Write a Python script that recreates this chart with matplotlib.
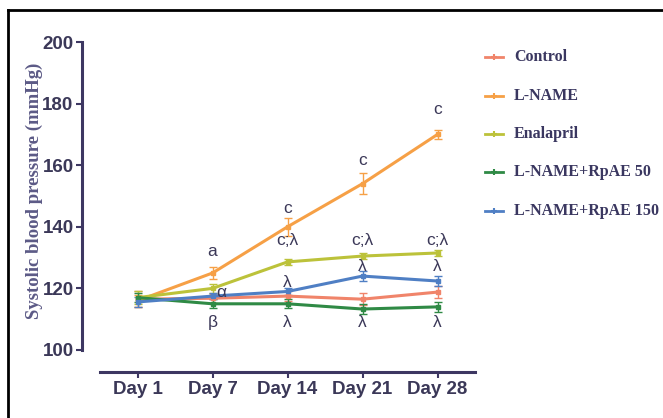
import matplotlib
matplotlib.use("Agg")
import matplotlib.pyplot as plt
from matplotlib.lines import Line2D

days = ["Day 1", "Day 7", "Day 14", "Day 21", "Day 28"]
x = [0, 1, 2, 3, 4]

control = [116.5, 116.8, 117.5, 116.5, 118.8]
control_err = [2.5, 1.5, 1.5, 2.0, 2.0]
lname = [116.0, 125.0, 140.0, 154.0, 170.0]
lname_err = [2.0, 2.0, 3.0, 3.5, 1.5]
enalapril = [117.0, 120.0, 128.6, 130.5, 131.5]
enalapril_err = [2.0, 1.5, 1.0, 1.0, 1.0]
rpae50 = [117.0, 115.0, 115.0, 113.3, 114.0]
rpae50_err = [1.5, 1.5, 1.5, 1.5, 1.5]
rpae150 = [115.6, 117.5, 119.0, 124.0, 122.4]
rpae150_err = [1.5, 1.0, 1.0, 1.5, 1.5]

series = [
    ("Control", control, control_err, "#f0846a"),
    ("L-NAME", lname, lname_err, "#f6a046"),
    ("Enalapril", enalapril, enalapril_err, "#bcc23a"),
    ("L-NAME+RpAE 50", rpae50, rpae50_err, "#2f8a45"),
    ("L-NAME+RpAE 150", rpae150, rpae150_err, "#4f7fc4"),
]

# significance letters: (x, y, text)
marks = [
    (1, 132.0, "a"), (2, 146.0, "c"), (3, 161.4, "c"), (4, 178.0, "c"),
    (2, 135.7, "c;λ"), (3, 135.7, "c;λ"), (4, 135.7, "c;λ"),
    (2, 121.8, "λ"), (3, 127.0, "λ"), (4, 127.0, "λ"),
    (1.12, 118.6, "α"),
    (1, 109.0, "β"), (2, 109.0, "λ"), (3, 109.0, "λ"), (4, 109.0, "λ"),
]

axcol = "#3d3762"
txtcol = "#3b3858"

fig = plt.figure(figsize=(6.63, 4.18), dpi=100)
ax = fig.add_axes([100 / 663, 68 / 418, 375 / 663, 308 / 418])

for name, vals, err, col in series:
    ax.errorbar(x, vals, yerr=err, color=col, lw=2.2, marker="s", ms=3.5,
                capsize=3, elinewidth=1.0, capthick=1.0, label=name)

for mx, my, t in marks:
    ax.text(mx, my, t, ha="center", va="center", fontsize=12.5, color=txtcol,
            family=["Liberation Sans", "DejaVu Sans"])

ax.set_xlim(-0.5, 4.5)
ax.set_ylim(100, 200)
ax.set_xticks(x)
ax.set_xticklabels(days)
ax.set_yticks([100, 120, 140, 160, 180, 200])

for s in ["top", "right"]:
    ax.spines[s].set_visible(False)
ax.spines["left"].set_position(("outward", 13))
ax.spines["bottom"].set_position(("outward", 16))
ax.spines["left"].set_color(axcol)
ax.spines["bottom"].set_color(axcol)
ax.spines["left"].set_linewidth(2.2)
ax.spines["bottom"].set_linewidth(2.2)
ax.tick_params(colors=axcol, width=1.5, length=4, pad=2)
for lab in ax.get_xticklabels() + ax.get_yticklabels():
    lab.set_family("Liberation Sans")
    lab.set_fontweight("bold")
    lab.set_fontsize(13.5)
    lab.set_color(txtcol)

fig.text(34 / 663, 1 - 191 / 418, "Systolic blood pressure (mmHg)",
         rotation=90, ha="center", va="center", family="Liberation Serif",
         fontweight="bold", fontsize=13.5, color="#5c5a86")

# legend drawn by hand
for i, (name, vals, err, col) in enumerate(series):
    ly = 1 - (57 + i * 38.5) / 418
    fig.add_artist(Line2D([485 / 663, 503 / 663], [ly, ly], color=col, lw=2,
                          transform=fig.transFigure))
    fig.add_artist(Line2D([494 / 663], [ly], color=col, marker="+", ms=5,
                          mew=1.5, transform=fig.transFigure))
    fig.text(514 / 663, ly, name, ha="left", va="center",
             family="Liberation Serif", fontweight="bold", fontsize=11.5,
             color="#3a3760")

# frame around the picture
fig.add_artist(Line2D([8 / 663, 8 / 663], [0, 1 - 10 / 418], color="black",
                      lw=2, transform=fig.transFigure))
fig.add_artist(Line2D([8 / 663, 1], [1 - 10 / 418, 1 - 10 / 418], color="black",
                      lw=2, transform=fig.transFigure))

fig.savefig("out.png", dpi=100)
